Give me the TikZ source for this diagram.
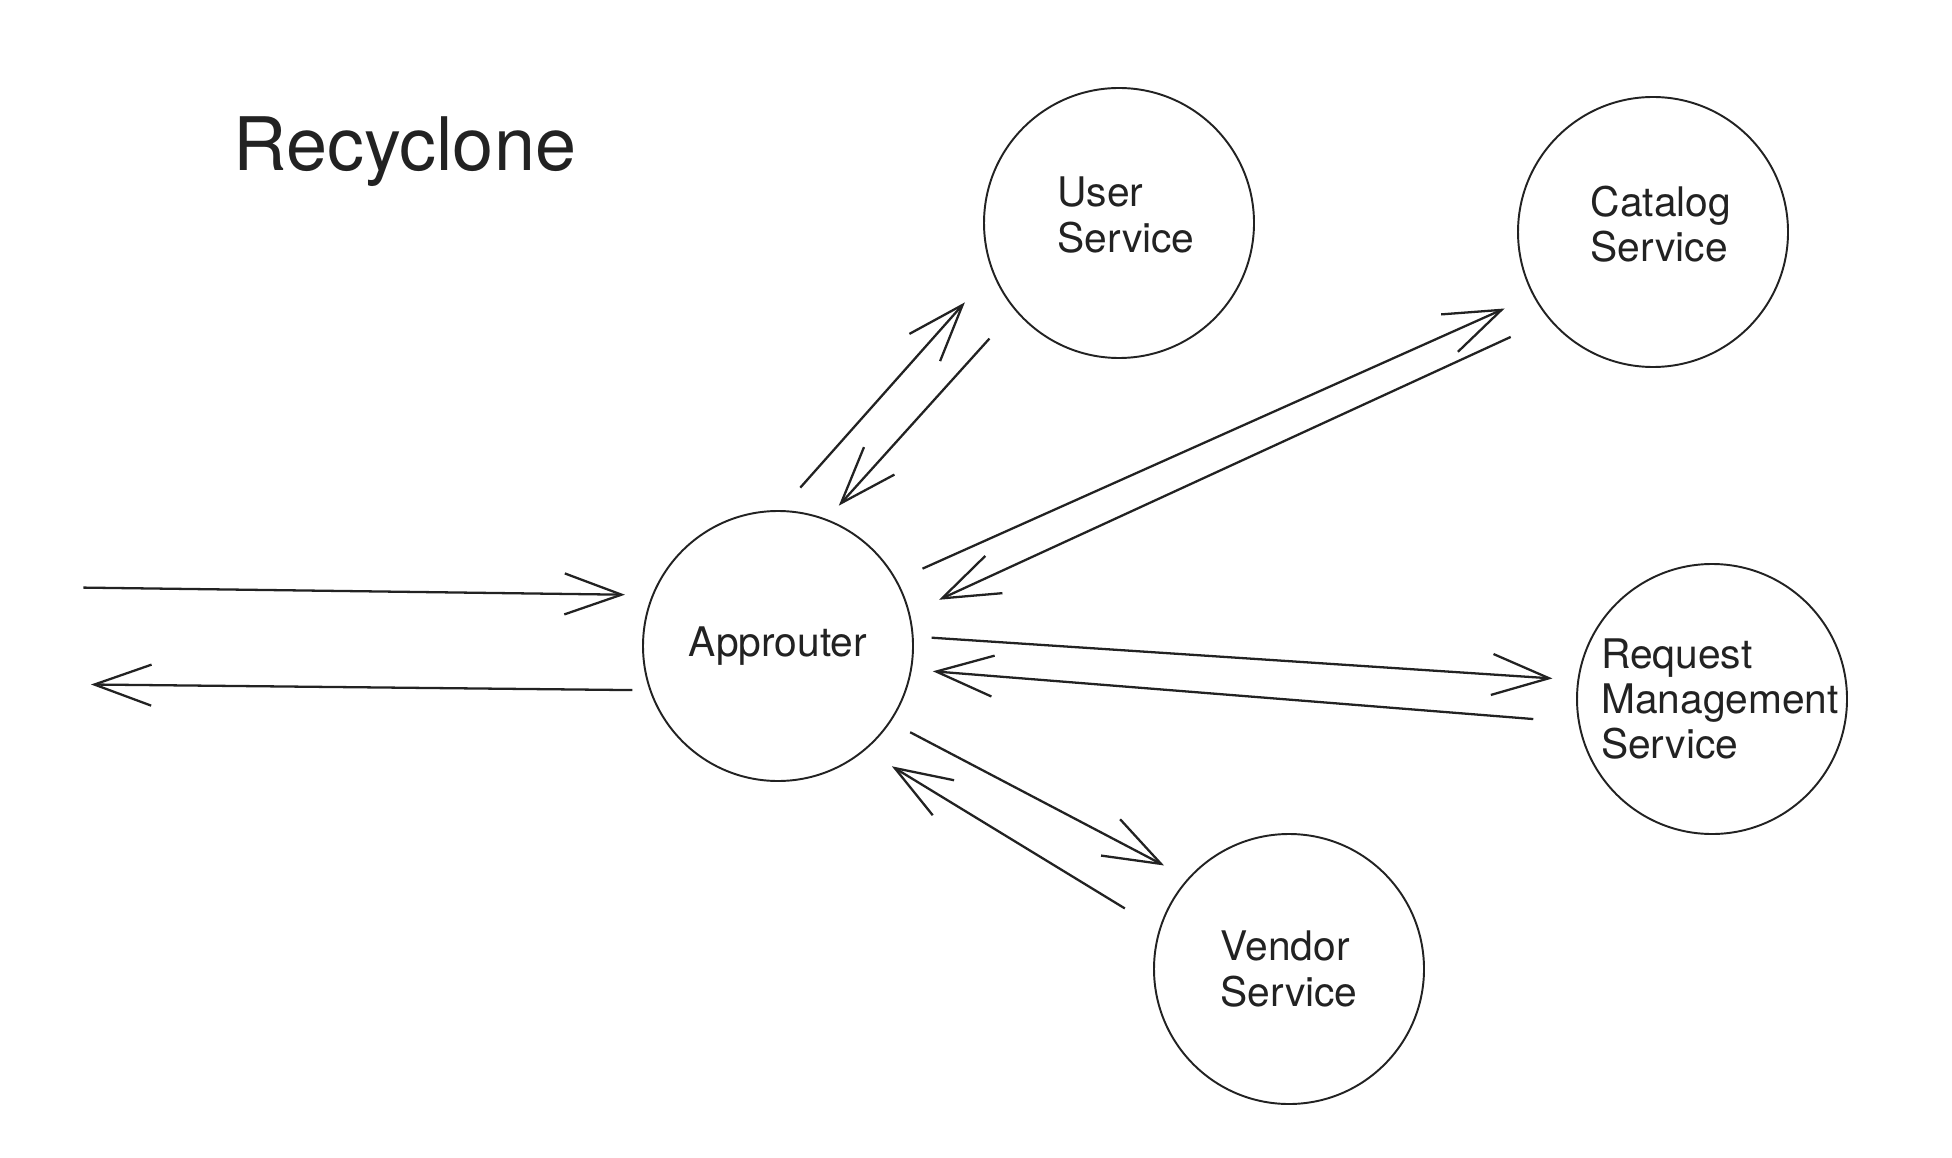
\documentclass[tikz,border=0pt]{standalone}
\usepackage{fontspec}
\setmainfont{TeX Gyre Heros}
\usepackage{tikz}
\usetikzlibrary{arrows.meta}
\definecolor{ink}{HTML}{222222}

\begin{document}
\begin{tikzpicture}
    \tikzstyle{svc} = [circle, draw=ink, line width=0.55pt, minimum size=2.7cm, inner sep=0pt]
    \tikzstyle{txt} = [inner sep=0pt, align=left, text=ink, font=\fontsize{11.6}{12.9}\selectfont]
    \tikzstyle{arr} = [line width=0.65pt, draw=ink, -{Straight Barb[length=5.7mm, width=4.1mm]}]

    \useasboundingbox (0,0) rectangle (19.52,-11.58);

    \node [anchor=base west, inner sep=0pt, text=ink, font=\fontsize{21}{25}\selectfont] (title) at (2.33,-1.71) {Recyclone};

    \node [svc] (app) at (7.78,-6.46) {};
    \node [svc] (usr) at (11.19,-2.23) {};
    \node [svc] (cat) at (16.53,-2.32) {};
    \node [svc] (req) at (17.12,-6.99) {};
    \node [svc] (ven) at (12.89,-9.69) {};

    \node [txt] (app-t) at (app.center) {Approuter};
    \node [txt] (usr-t) at ([shift={(0.07,0.08)}]usr.center) {User\\Service};
    \node [txt] (cat-t) at ([shift={(0.08,0.08)}]cat.center) {Catalog\\Service};
    \node [txt] (req-t) at ([shift={(0.08,0)}]req.center) {Request\\Management\\Service};
    \node [txt] (ven-t) at (ven.center) {Vendor\\Service};

    \coordinate (client in) at (0.834,-5.876);
    \coordinate (client out) at (0.91,-6.845);

    \draw [arr, shorten >=2.7mm] (client in) -- (app.158);
    \draw [arr, shorten <=1.7mm] (app.199) -- (client out);

    \draw [arr, shorten <=3.0mm, shorten >=4.1mm] (app.89) -- (usr.201);
    \draw [arr, shorten <=3.8mm, shorten >=1.8mm] (usr.220) -- (app.69);
    \draw [arr, shorten <=2.8mm, shorten >=3.1mm] (app.29) -- (cat.208);
    \draw [arr, shorten <=4.2mm, shorten >=3.2mm] (cat.220) -- (app.14);
    \draw [arr, shorten <=1.8mm, shorten >=2.5mm] (app.4) -- (req.172);
    \draw [arr, shorten <=4.5mm, shorten >=2.1mm] (req.190) -- (app.350);
    \draw [arr, shorten <=2.2mm, shorten >=2.7mm] (app.326) -- (ven.138);
    \draw [arr, shorten <=4.0mm, shorten >=3.1mm] (ven.163) -- (app.310);
\end{tikzpicture}
\end{document}
